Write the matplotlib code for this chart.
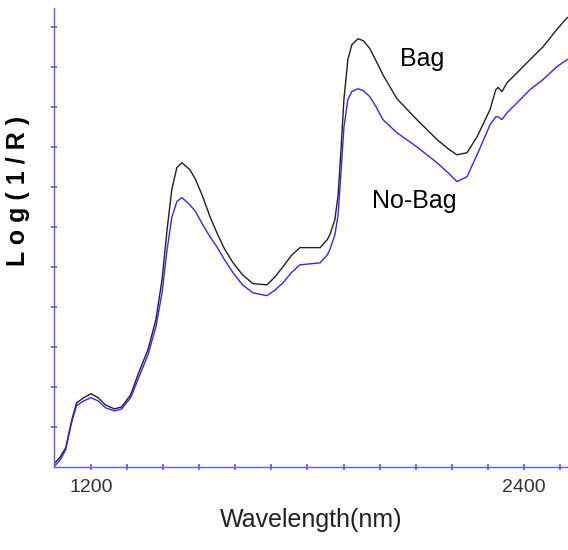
import matplotlib
matplotlib.use("Agg")
import matplotlib.pyplot as plt
from matplotlib.ticker import FixedLocator, NullFormatter

# spectra (wavelength in nm, log(1/R) in arbitrary units)
wavelength = [1100, 1115, 1130, 1147, 1160, 1180, 1200, 1220, 1240, 1265, 1285,
              1310, 1330, 1358, 1380, 1397, 1411, 1424, 1438, 1452, 1474, 1490,
              1510, 1530, 1549, 1570, 1594, 1620, 1649, 1688, 1710, 1732, 1755,
              1779, 1835, 1855, 1862, 1876, 1885, 1893, 1901, 1912, 1923, 1940,
              1955, 1973, 1990, 2009, 2048, 2103, 2159, 2190, 2214, 2242, 2270,
              2306, 2322, 2328, 2339, 2353, 2381, 2417, 2453, 2491, 2520]
bag = [0.10, 0.25, 0.48, 1.18, 1.60, 1.73, 1.83, 1.73, 1.55, 1.45, 1.50,
       1.80, 2.30, 2.93, 3.68, 4.68, 5.93, 6.93, 7.48, 7.60, 7.43, 7.18,
       6.75, 6.25, 5.85, 5.45, 5.10, 4.80, 4.58, 4.55, 4.75, 5.00, 5.28,
       5.48, 5.48, 5.68, 5.80, 6.18, 6.80, 7.93, 9.18, 10.18, 10.55, 10.70,
       10.65, 10.45, 10.15, 9.80, 9.20, 8.68, 8.18, 7.95, 7.80, 7.85, 8.25,
       8.93, 9.43, 9.48, 9.38, 9.60, 9.85, 10.18, 10.50, 10.93, 11.23]
no_bag = [0.03, 0.18, 0.43, 1.13, 1.53, 1.65, 1.73, 1.65, 1.48, 1.40, 1.45,
          1.73, 2.18, 2.80, 3.50, 4.35, 5.43, 6.23, 6.63, 6.73, 6.55, 6.38,
          6.05, 5.75, 5.50, 5.18, 4.85, 4.55, 4.35, 4.28, 4.42, 4.60, 4.85,
          5.05, 5.10, 5.30, 5.43, 5.80, 6.30, 7.38, 8.48, 9.18, 9.38, 9.45,
          9.40, 9.25, 9.00, 8.68, 8.35, 8.00, 7.60, 7.35, 7.13, 7.25, 7.80,
          8.55, 8.75, 8.75, 8.68, 8.85, 9.10, 9.43, 9.68, 10.00, 10.18]

x_ticks = list(range(1200, 2600, 100))
x_labeled = [1200, 2400]
y_ticks = list(range(1, 12))

AXIS_BLUE = "#5a5aff"
FONT = ["Liberation Sans", "DejaVu Sans"]

fig = plt.figure(figsize=(5.68, 5.5), dpi=100)
ax = fig.add_axes([0.095, 0.151, 0.905, 0.835])

ax.plot(wavelength, bag, color="#202020", lw=1.0)
ax.plot(wavelength, no_bag, color="#2a2aff", lw=1.0)

ax.set_xlim(1097.5, 2522)
ax.set_ylim(0, 11.475)

for side in ("top", "right"):
    ax.spines[side].set_visible(False)
for side in ("left", "bottom"):
    ax.spines[side].set_color(AXIS_BLUE)
    ax.spines[side].set_linewidth(1.0)

ax.xaxis.set_major_locator(FixedLocator(x_ticks))
ax.set_xticklabels([str(t) if t in x_labeled else "" for t in x_ticks])
ax.yaxis.set_major_locator(FixedLocator(y_ticks))
ax.yaxis.set_major_formatter(NullFormatter())
ax.tick_params(axis="both", direction="inout", length=4, width=1.2,
               color=AXIS_BLUE)
ax.tick_params(axis="x", labelsize=14, labelcolor="#333333", pad=7)
for lbl in ax.get_xticklabels():
    lbl.set_family(FONT)

ax.text(2056, 10.2, "Bag", fontsize=18, family=FONT, ha="left",
        va="center")
ax.text(1979, 6.65, "No-Bag", fontsize=18, family=FONT, ha="left",
        va="center")

ax.set_xlabel("Wavelength(nm)", fontsize=18, family=FONT, labelpad=8,
              color="#222222")
ax.set_ylabel("L o g ( 1 / R )", fontsize=18, fontweight="bold", family=FONT)
ax.yaxis.set_label_coords(-0.047, 0.60)

fig.savefig("out.png", dpi=100)
